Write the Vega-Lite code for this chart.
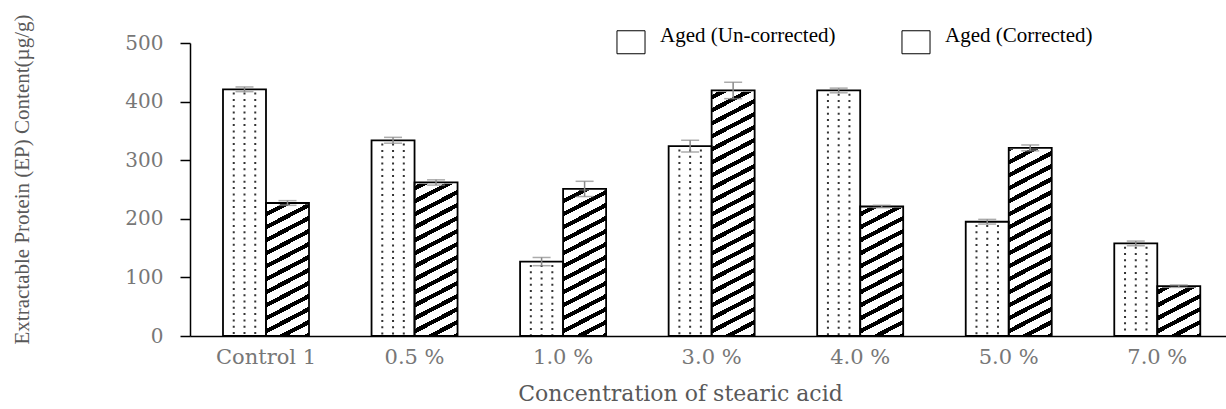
{
  "$schema": "https://vega.github.io/schema/vega-lite/v6.json",
  "width": 1036,
  "height": 293,
  "autosize": {"type": "none"},
  "padding": {"left": 190, "top": 43, "right": 0, "bottom": 73},
  "background": "#ffffff",
  "config": {"view": {"stroke": null}},
  "data": {
    "values": [
      {"conc": "Control 1", "series": "Aged (Un-corrected)", "value": 421, "err": 4},
      {"conc": "Control 1", "series": "Aged (Corrected)", "value": 227, "err": 4},
      {"conc": "0.5 %", "series": "Aged (Un-corrected)", "value": 334, "err": 5},
      {"conc": "0.5 %", "series": "Aged (Corrected)", "value": 262, "err": 4.5},
      {"conc": "1.0 %", "series": "Aged (Un-corrected)", "value": 127, "err": 7},
      {"conc": "1.0 %", "series": "Aged (Corrected)", "value": 251, "err": 13},
      {"conc": "3.0 %", "series": "Aged (Un-corrected)", "value": 324, "err": 10},
      {"conc": "3.0 %", "series": "Aged (Corrected)", "value": 419, "err": 14},
      {"conc": "4.0 %", "series": "Aged (Un-corrected)", "value": 419, "err": 4},
      {"conc": "4.0 %", "series": "Aged (Corrected)", "value": 221, "err": 2},
      {"conc": "5.0 %", "series": "Aged (Un-corrected)", "value": 195, "err": 4},
      {"conc": "5.0 %", "series": "Aged (Corrected)", "value": 321, "err": 5},
      {"conc": "7.0 %", "series": "Aged (Un-corrected)", "value": 158, "err": 4},
      {"conc": "7.0 %", "series": "Aged (Corrected)", "value": 85, "err": 2}
    ]
  },
  "encoding": {
    "x": {
      "field": "conc",
      "type": "nominal",
      "sort": null,
      "title": "Concentration of stearic acid",
      "scale": {"paddingInner": 0.421, "paddingOuter": 0.1976, "align": 0.562},
      "axis": {
        "labelAngle": 0,
        "ticks": false,
        "domainColor": "#000000",
        "domainWidth": 1.5,
        "labelFont": "DejaVu Serif",
        "labelFontSize": 21,
        "labelColor": "#777777",
        "labelPadding": 10,
        "titleFont": "DejaVu Serif",
        "titleFontSize": 22,
        "titleFontWeight": "normal",
        "titleColor": "#595959",
        "titlePadding": 16,
        "titleX": 490
      }
    }
  },
  "layer": [
    {
      "mark": {"type": "bar", "strokeWidth": 0},
      "encoding": {
        "xOffset": {
          "field": "series", "type": "nominal", "sort": null,
          "scale": {"domain": ["Aged (Un-corrected)", "Aged (Corrected)"], "paddingInner": 0, "paddingOuter": 0}
        },
        "y": {
          "field": "value",
          "type": "quantitative",
          "title": "Extractable Protein (EP) Content(µg/g)",
          "scale": {"domain": [0, 500], "nice": false},
          "axis": {
            "values": [0, 100, 200, 300, 400, 500],
            "grid": false,
            "tickSize": 10,
            "tickColor": "#000000",
            "tickWidth": 1.5,
            "domainColor": "#000000",
            "domainWidth": 1.5,
            "labelFont": "DejaVu Serif",
            "labelFontSize": 20,
            "labelColor": "#777777",
            "labelPadding": 17,
            "titleFont": "Liberation Serif",
            "titleFontSize": 21,
            "titleFontWeight": "normal",
            "titleColor": "#595959",
            "titleX": -168,
            "titleY": 136,
            "titleBaseline": "middle"
          }
        },
        "fill": {
          "field": "series",
          "type": "nominal",
          "sort": null,
          "scale": {"domain": ["Aged (Un-corrected)", "Aged (Corrected)"], "range": ["#ffffff", "#ffffff"]},
          "legend": {
            "title": null,
            "orient": "none",
            "legendX": 429,
            "legendY": -13,
            "direction": "horizontal",
            "symbolType": "M-1.22,-1L1.22,-1L1.22,1L-1.22,1Z",
            "symbolSize": 529,
            "symbolStrokeColor": "#000000",
            "symbolStrokeWidth": 1,
            "labelFont": "Liberation Serif",
            "labelFontSize": 21,
            "labelColor": "#000000",
            "labelBaseline": "alphabetic",
            "labelOffset": 17,
            "labelLimit": 400,
            "columnPadding": 63,
            "encode": {
              "symbols": {
                "update": {
                  "stroke": {"value": "#000000"},
                  "strokeWidth": {"value": 1},
                  "fill": {
                    "condition": {
                      "test": "datum.value === 'Aged (Corrected)'",
                      "value": {
                        "gradient": "linear",
                        "x1": 0, "y1": 0, "x2": 1.1737, "y2": 0.7143,
                        "stops": [
                          {"offset": 0, "color": "#ffffff"},
                          {"offset": 0.385, "color": "#ffffff"},
                          {"offset": 0.385, "color": "#000000"},
                          {"offset": 0.425, "color": "#000000"},
                          {"offset": 0.425, "color": "#ffffff"},
                          {"offset": 0.575, "color": "#ffffff"},
                          {"offset": 0.575, "color": "#000000"},
                          {"offset": 0.615, "color": "#000000"},
                          {"offset": 0.615, "color": "#ffffff"},
                          {"offset": 1, "color": "#ffffff"}
                        ]
                      }
                    },
                    "value": "#ffffff"
                  }
                }
              }
            }
          }
        }
      }
    },
    {
      "transform": [{"filter": "datum.series === 'Aged (Corrected)'"}],
      "mark": {
        "type": "bar",
        "strokeWidth": 0,
        "fill": {
          "gradient": "linear",
          "x1": 0, "y1": 0, "x2": 0.0817, "y2": 1.0701,
          "stops": [
            {"offset": 0, "color": "#000"}, {"offset": 0.015, "color": "#000"}, {"offset": 0.015, "color": "#fff"}, {"offset": 0.0412, "color": "#fff"},
            {"offset": 0.0412, "color": "#000"}, {"offset": 0.0562, "color": "#000"}, {"offset": 0.0562, "color": "#fff"}, {"offset": 0.0824, "color": "#fff"},
            {"offset": 0.0824, "color": "#000"}, {"offset": 0.0974, "color": "#000"}, {"offset": 0.0974, "color": "#fff"}, {"offset": 0.1237, "color": "#fff"},
            {"offset": 0.1237, "color": "#000"}, {"offset": 0.1387, "color": "#000"}, {"offset": 0.1387, "color": "#fff"}, {"offset": 0.1649, "color": "#fff"},
            {"offset": 0.1649, "color": "#000"}, {"offset": 0.1799, "color": "#000"}, {"offset": 0.1799, "color": "#fff"}, {"offset": 0.2061, "color": "#fff"},
            {"offset": 0.2061, "color": "#000"}, {"offset": 0.2211, "color": "#000"}, {"offset": 0.2211, "color": "#fff"}, {"offset": 0.2473, "color": "#fff"},
            {"offset": 0.2473, "color": "#000"}, {"offset": 0.2623, "color": "#000"}, {"offset": 0.2623, "color": "#fff"}, {"offset": 0.2886, "color": "#fff"},
            {"offset": 0.2886, "color": "#000"}, {"offset": 0.3036, "color": "#000"}, {"offset": 0.3036, "color": "#fff"}, {"offset": 0.3298, "color": "#fff"},
            {"offset": 0.3298, "color": "#000"}, {"offset": 0.3448, "color": "#000"}, {"offset": 0.3448, "color": "#fff"}, {"offset": 0.371, "color": "#fff"},
            {"offset": 0.371, "color": "#000"}, {"offset": 0.386, "color": "#000"}, {"offset": 0.386, "color": "#fff"}, {"offset": 0.4122, "color": "#fff"},
            {"offset": 0.4122, "color": "#000"}, {"offset": 0.4272, "color": "#000"}, {"offset": 0.4272, "color": "#fff"}, {"offset": 0.4535, "color": "#fff"},
            {"offset": 0.4535, "color": "#000"}, {"offset": 0.4685, "color": "#000"}, {"offset": 0.4685, "color": "#fff"}, {"offset": 0.4947, "color": "#fff"},
            {"offset": 0.4947, "color": "#000"}, {"offset": 0.5097, "color": "#000"}, {"offset": 0.5097, "color": "#fff"}, {"offset": 0.5359, "color": "#fff"},
            {"offset": 0.5359, "color": "#000"}, {"offset": 0.5509, "color": "#000"}, {"offset": 0.5509, "color": "#fff"}, {"offset": 0.5771, "color": "#fff"},
            {"offset": 0.5771, "color": "#000"}, {"offset": 0.5921, "color": "#000"}, {"offset": 0.5921, "color": "#fff"}, {"offset": 0.6183, "color": "#fff"},
            {"offset": 0.6183, "color": "#000"}, {"offset": 0.6333, "color": "#000"}, {"offset": 0.6333, "color": "#fff"}, {"offset": 0.6596, "color": "#fff"},
            {"offset": 0.6596, "color": "#000"}, {"offset": 0.6746, "color": "#000"}, {"offset": 0.6746, "color": "#fff"}, {"offset": 0.7008, "color": "#fff"},
            {"offset": 0.7008, "color": "#000"}, {"offset": 0.7158, "color": "#000"}, {"offset": 0.7158, "color": "#fff"}, {"offset": 0.742, "color": "#fff"},
            {"offset": 0.742, "color": "#000"}, {"offset": 0.757, "color": "#000"}, {"offset": 0.757, "color": "#fff"}, {"offset": 0.7832, "color": "#fff"},
            {"offset": 0.7832, "color": "#000"}, {"offset": 0.7982, "color": "#000"}, {"offset": 0.7982, "color": "#fff"}, {"offset": 0.8245, "color": "#fff"},
            {"offset": 0.8245, "color": "#000"}, {"offset": 0.8395, "color": "#000"}, {"offset": 0.8395, "color": "#fff"}, {"offset": 0.8657, "color": "#fff"},
            {"offset": 0.8657, "color": "#000"}, {"offset": 0.8807, "color": "#000"}, {"offset": 0.8807, "color": "#fff"}, {"offset": 0.9069, "color": "#fff"},
            {"offset": 0.9069, "color": "#000"}, {"offset": 0.9219, "color": "#000"}, {"offset": 0.9219, "color": "#fff"}, {"offset": 0.9481, "color": "#fff"},
            {"offset": 0.9481, "color": "#000"}, {"offset": 0.9631, "color": "#000"}, {"offset": 0.9631, "color": "#fff"}, {"offset": 0.9894, "color": "#fff"},
            {"offset": 0.9894, "color": "#000"}, {"offset": 1, "color": "#000"}
          ]
        }
      },
      "encoding": {
        "xOffset": {"field": "series", "type": "nominal", "sort": null},
        "y": {"datum": 500, "type": "quantitative", "title": "Extractable Protein (EP) Content(µg/g)"},
        "y2": {"datum": 0}
      }
    },
    {
      "transform": [{"filter": "datum.series === 'Aged (Corrected)'"}],
      "mark": {"type": "bar", "fill": "#ffffff", "stroke": "#ffffff", "strokeWidth": 2.5},
      "encoding": {
        "xOffset": {"field": "series", "type": "nominal", "sort": null},
        "y": {"field": "value", "type": "quantitative", "title": "Extractable Protein (EP) Content(µg/g)"},
        "y2": {"datum": 500}
      }
    },
    {
      "transform": [{"filter": "datum.series === 'Aged (Un-corrected)'"}],
      "mark": {"type": "rule", "color": "#333333", "strokeWidth": 2, "strokeDash": [2, 4.3], "strokeDashOffset": 3},
      "encoding": {
        "x": {"field": "conc", "type": "nominal", "sort": null, "bandPosition": 0.125},
        "y": {"field": "value", "type": "quantitative", "title": "Extractable Protein (EP) Content(µg/g)"},
        "y2": {"datum": 0}
      }
    },
    {
      "transform": [{"filter": "datum.series === 'Aged (Un-corrected)'"}],
      "mark": {"type": "rule", "color": "#333333", "strokeWidth": 2, "strokeDash": [2, 4.3], "strokeDashOffset": 3},
      "encoding": {
        "x": {"field": "conc", "type": "nominal", "sort": null, "bandPosition": 0.25},
        "y": {"field": "value", "type": "quantitative", "title": "Extractable Protein (EP) Content(µg/g)"},
        "y2": {"datum": 0}
      }
    },
    {
      "transform": [{"filter": "datum.series === 'Aged (Un-corrected)'"}],
      "mark": {"type": "rule", "color": "#333333", "strokeWidth": 2, "strokeDash": [2, 4.3], "strokeDashOffset": 3},
      "encoding": {
        "x": {"field": "conc", "type": "nominal", "sort": null, "bandPosition": 0.375},
        "y": {"field": "value", "type": "quantitative", "title": "Extractable Protein (EP) Content(µg/g)"},
        "y2": {"datum": 0}
      }
    },
    {
      "mark": {"type": "bar", "fill": "transparent", "stroke": "#000000", "strokeWidth": 1.8},
      "encoding": {
        "xOffset": {"field": "series", "type": "nominal", "sort": null},
        "y": {"field": "value", "type": "quantitative", "title": "Extractable Protein (EP) Content(µg/g)"}
      }
    },
    {
      "mark": {
        "type": "errorbar",
        "ticks": {"size": 18, "color": "#888888", "thickness": 1.5},
        "rule": {"color": "#888888", "strokeWidth": 1.5}
      },
      "encoding": {
        "xOffset": {"field": "series", "type": "nominal", "sort": null},
        "y": {"field": "value", "type": "quantitative", "title": "Extractable Protein (EP) Content(µg/g)"},
        "yError": {"field": "err"}
      }
    }
  ]
}
